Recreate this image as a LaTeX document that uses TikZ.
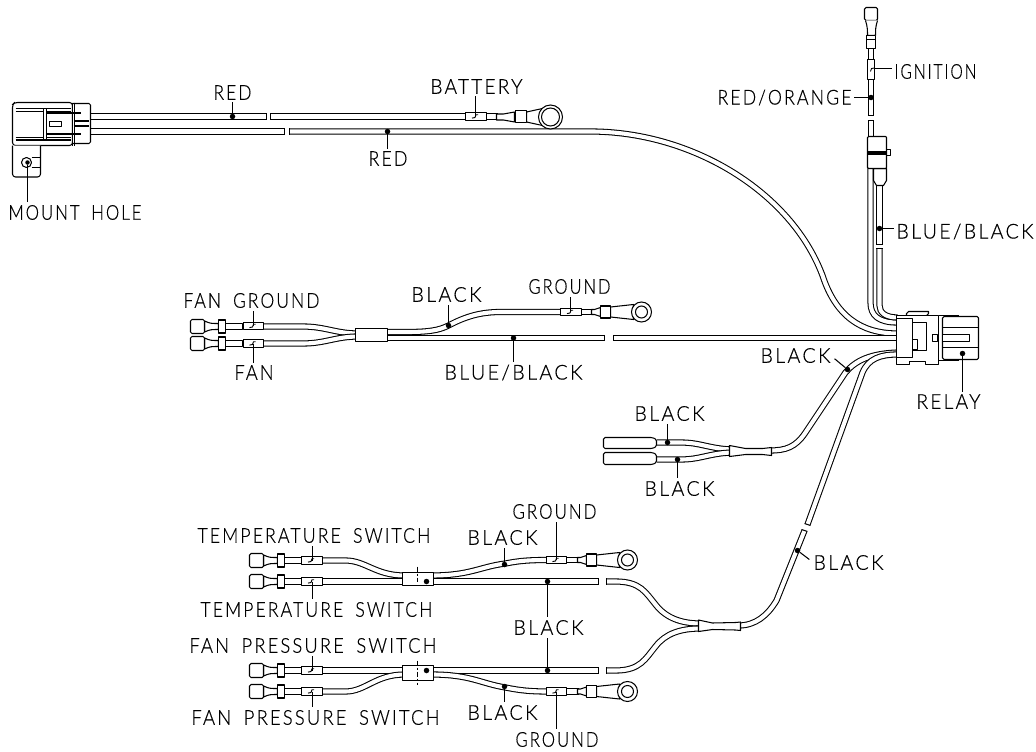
\documentclass[tikz,border=0pt]{standalone}
\usepackage{graphicx}
\usepackage{fontspec}
\newfontfamily\labfont[LetterSpace=12,FakeBold=0.5]{Lato Light}
\newcommand{\wgap}{\kern.3em}
\tikzset{
  ln/.style={line width=1.05pt,line join=round},
  wire/.style={draw=black,line width=1.05pt,double=white,double distance=4.1pt},
  wdot/.style={circle,fill=black,draw=none,inner sep=0pt,minimum size=5.5pt},
  lab/.style={inner sep=0pt,text=black},
  leader/.style={line width=1.05pt,shorten >=2.5pt},
  part/.style={ln,draw=black,fill=white},
}
% label: name, x, y, width, text
\newcommand{\lab}[5]{\node[lab] (#1) at (#2,#3) {\resizebox{#4pt}{\height}{\fontsize{20.5}{21}\labfont #5}};}
\newcommand{\capv}[2]{\draw[ln] (#1,#2-3.1) -- (#1,#2+3.1);}
% tag sleeve with small hook: x1, x2, y
\newcommand{\tagbox}[3]{%
  \draw[part] (#1,#3-3.6) rectangle (#2,#3+3.6);
  \draw[line width=.9pt] ({(#1+#2)/2-4},#3+1.6) -- ({(#1+#2)/2-1},#3+1) -- ({(#1+#2)/2},#3-1.8) -- ({(#1+#2)/2+2},#3-1.8);}
% blade terminal, opening left
\newcommand{\blade}[2]{\begin{scope}[shift={(#1,#2)}]
  \draw[part] (35,-3) rectangle (52,3);
  \draw[part] (14,-5.5) .. controls (20,-3) .. (28,-3) -- (28,3) .. controls (20,3) .. (14,5.5) -- cycle;
  \draw[part,rounded corners=1.5pt] (0,-7) rectangle (14,7);
  \draw[part] (28,-6.5) rectangle (35,6.5);
\end{scope}}
% ring terminal, opening right
\newcommand{\ring}[2]{\begin{scope}[shift={(#1,#2)}]
  \draw[part] (0,-2.5) -- (3,-2.5) -- (9,-4.5) -- (9,4.5) -- (3,2.5) -- (0,2.5) -- cycle;
  \draw[part] (19,-5) -- (42,-7.5) -- (42,7.5) -- (19,5) -- cycle;
  \draw[part] (9,-6) rectangle (19,6);
  \draw[part] (50,0) circle [radius=10];
  \draw[ln] (50,0) circle [radius=6];
\end{scope}}
\begin{document}
\begin{tikzpicture}[x=1pt,y=-1pt]
\useasboundingbox (0,0) rectangle (1036,752);
\begin{scope}[shift={(.5,.5)}]

% ---- wires ----
\draw[wire] (85,116) -- (266,116);
\draw[wire] (270,116) -- (467,116);
\draw[wire] (486,116) -- (497,116);
\draw[wire] (85,131) -- (284,131);
\draw[wire] (289,131) -- (590,131) .. controls (690,131) and (790,190) .. (822,275) .. controls (835,315) and (860,333) .. (897,333);
\capv{266}{116}\capv{270}{116}\capv{284}{131}\capv{289}{131}
% vertical wires to the relay
\draw[wire] (870.5,45) -- (870.5,115);
\draw[wire] (870.5,120) -- (870.5,140);
\draw[wire] (870,165) -- (870,302) .. controls (870,315) and (878,322) .. (897,322);
\draw[wire] (879,180) -- (879,244);
\draw[wire] (879,248) -- (879,305) .. controls (879,312) and (885,317) .. (897,317);
\draw[ln] (867.4,115) -- (873.6,115) (867.4,120) -- (873.6,120) (875.9,244) -- (882.1,244) (875.9,248) -- (882.1,248);
% fan group
\draw[wire] (263,326) -- (302,326) .. controls (325,326) and (335,333) .. (358,333);
\draw[wire] (263,343) -- (302,343) .. controls (325,343) and (335,336) .. (358,336);
\draw[wire] (385,337.5) -- (604,337.5);
\draw[wire] (613,337.5) -- (897,337.5);
\capv{604}{337.5}\capv{613}{337.5}
\draw[wire] (385,331.5) -- (405,331.5) .. controls (428,331.5) and (438,330) .. (448,325) .. controls (465,316) and (480,311.5) .. (500,311.5) -- (562,311.5);
\draw[wire] (580,311.5) -- (592,311.5);
% branches under the relay
\draw[wire] (897,352) .. controls (870,353) and (855,360) .. (845,372) -- (805,432) .. controls (795,447) and (785,450) .. (769,450);
\draw[wire] (897,354) .. controls (880,354) and (868,358) .. (862,372) -- (807,524);
\draw[wire] (804,530) -- (776,600) .. controls (767,615) and (755,625) .. (738,625);
\draw[ln] (804.1,523) -- (809.9,525) (801.1,529) -- (806.9,531);
% relay-side Y
\draw[wire] (656,442) -- (680,442) .. controls (700,442) and (708,448) .. (731,449);
\draw[wire] (656,459) -- (680,459) .. controls (700,459) and (708,453) .. (731,452);
% temperature group
\draw[wire] (322,560) -- (345,560) .. controls (365,560) and (375,575) .. (404,575);
\draw[wire] (300,581) -- (404,581);
\draw[wire] (431,581) -- (598,581);
\draw[wire] (431,575) .. controls (470,575) and (480,566) .. (505,563) .. controls (520,560) and (530,559.5) .. (548,559.5);
\draw[wire] (565,559.5) -- (578,559.5);
\capv{598}{581}
% fan pressure group
\draw[wire] (322,670) -- (404,670);
\draw[wire] (322,691) -- (345,691) .. controls (365,691) and (375,674) .. (404,674);
\draw[wire] (431,670) -- (598,670);
\draw[wire] (431,674) .. controls (470,674) and (480,683) .. (505,687) .. controls (520,690) and (530,691) .. (548,691);
\draw[wire] (565,691) -- (578,691);
\capv{598}{670}
% Y into the switch branch
\draw[wire] (606,581) -- (615,581) .. controls (640,581) and (645,592) .. (655,604) .. controls (665,617) and (680,623) .. (700,623);
\draw[wire] (606,670) -- (615,670) .. controls (640,670) and (645,658) .. (655,646) .. controls (665,633) and (680,628) .. (700,628);
\capv{606}{581}\capv{606}{670}

% ---- left connector ----
\draw[part,rounded corners=3pt] (72,102) -- (14,102) -- (12,104) -- (12,145) -- (72,145) -- cycle;
\draw[part,rounded corners=3pt] (40,145) -- (40,176.5) -- (12,176.5) -- (12,145);
\draw[part,rounded corners=1.5pt] (72,103) -- (90,103) -- (90,143) -- (72,143);
\draw[ln] (72,102) -- (72,145) (74,102) -- (74,145);
\draw[ln] (15,108) -- (70,108) (15,111) -- (70,111) (15,137) -- (70,137) (15,139.5) -- (70,139.5);
\draw[part] (43,108) rectangle (46,139.5);
\draw[ln] (46,112.5) -- (80,112.5) (46,133.5) -- (80,133.5);
\draw[part] (49,121) rectangle (61,126);
\draw[ln] (73,120.5) -- (88,120.5) (73,125.5) -- (88,125.5);
\draw[ln] (31,157) -- (40,157) (31,167) -- (40,167);
\draw[part] (26,162) circle [radius=5];

% ---- battery terminal ----
\draw[part] (496,113.5) -- (503,113.5) -- (514,111.5) -- (514,121.5) -- (503,119.5) -- (496,119.5) -- cycle;
\draw[part] (526,111.5) -- (542,108) -- (542,125) -- (526,121.5) -- cycle;
\draw[part] (515,110) rectangle (526,122);
\draw[part] (550,116.5) circle [radius=12];
\draw[ln] (550,116.5) circle [radius=9];
\tagbox{465}{486}{116}

% ---- ignition branch ----
\draw[part,rounded corners=1.5pt] (864,7) rectangle (877,20);
\draw[part] (865,20) .. controls (867,26) and (867,30) .. (867,35) -- (875,35) .. controls (875,30) and (875,26) .. (877,20);
\draw[part] (866,35) rectangle (875,48);
\draw[ln] (866,39) -- (875,39);
\draw[part] (867,59) rectangle (874,79);
\draw[line width=.9pt] (870,71) -- (871,68) -- (874,67.5);
% clamp and boot
\draw[part] (873,168) -- (873,180) -- (876,185) -- (883,185) -- (886,180) -- (886,168) -- cycle;
\draw[ln] (876,185) -- (876,188) (882,185) -- (882,188);
\draw[part] (885,149) rectangle (890,155);
\draw[part,rounded corners=1pt] (867,136) rectangle (886,168);
\draw[draw=none,fill=black] (866,150) rectangle (886,154);

% ---- relay connector ----
\draw[part] (906,315) -- (906,313) -- (908,311) -- (928,311) -- (928,313) -- (926,315);
\draw[part] (896,315) -- (938,315) -- (938,364) -- (925,364) -- (925,361) -- (909,361) -- (909,364) -- (896,364) -- cycle;
\draw[part] (896,318) rectangle (912,357);
\draw[part] (912,322) rectangle (926,350);
\draw[part] (912,339) rectangle (917,349);
\draw[ln] (938,315) -- (958,315) (938,360) -- (958,360);
\draw[part,rounded corners=1.5pt] (942,316) rectangle (978,359);
\draw[ln] (942,327) -- (978,327) (942,347) -- (978,347);
\draw[part] (942,334) rectangle (969,341);
\draw[part] (932,334) rectangle (937,341);

% ---- fan group parts ----
\blade{190}{326}\blade{190}{343}
\tagbox{243}{263}{325.5}\tagbox{243}{263}{343}
\draw[part] (355,328) rectangle (387,341);
\tagbox{560}{581}{311.5}
\ring{591}{311.5}

% ---- relay-side Y parts ----
\draw[part,rounded corners=1.5pt] (603,437) -- (652,437) -- (656,439) -- (656,446) -- (652,448) -- (603,448) -- cycle;
\draw[part,rounded corners=1.5pt] (603,452) -- (652,452) -- (656,454) -- (656,462) -- (652,464) -- (603,464) -- cycle;
\draw[part] (729,445) -- (745,448) -- (762,448) -- (771,447) -- (771,455) -- (762,454) -- (745,454) -- (729,456) -- cycle;

% ---- temperature parts ----
\blade{249}{560}\blade{249}{581}
\tagbox{301}{322}{560}\tagbox{301}{322}{581}
\draw[part] (402,572) rectangle (433,585);
\draw[line width=.9pt,dash pattern=on 5pt off 2pt on 2pt off 2pt] (417,566) -- (417,581);
\tagbox{546}{566}{559.5}
\ring{577}{559.5}

% ---- fan pressure parts ----
\blade{249}{670}\blade{249}{691}
\tagbox{301}{322}{670}\tagbox{301}{322}{691}
\draw[part] (402,665) rectangle (433,680);
\draw[line width=.9pt,dash pattern=on 5pt off 2pt on 2pt off 2pt] (417,660) -- (417,684);
\tagbox{546}{566}{691}
\ring{577}{691}

% ---- switch-branch sleeve ----
\draw[part] (698,619.5) -- (712,622.5) -- (735,622) -- (740,621.5) -- (740,630) -- (735,629.5) -- (712,629) -- (698,631) -- cycle;

% ---- connection dots ----
\node[wdot] (dRedA) at (232,116) {};
\node[wdot] (dRedB) at (387,131) {};
\coordinate (dBatt) at (475,116);
\node[wdot,minimum size=4.5pt] (dHole) at (27,162) {};
\coordinate (dIgn) at (874,68);
\node[wdot] (dOrange) at (870.5,97) {};
\node[wdot] (dBlueV) at (879,228) {};
\coordinate (dFanG) at (253,325);
\coordinate (dFan) at (253,343);
\node[wdot] (dBlackF) at (448,325) {};
\coordinate (dGndF) at (570,311);
\node[wdot] (dBlueH) at (513,337.5) {};
\node[wdot] (dBlackR) at (847,369) {};
\node[wdot] (dRelay) at (962,353) {};
\node[wdot] (dY1) at (667,442) {};
\node[wdot] (dY2) at (677,459) {};
\node[wdot] (dSw) at (797,550) {};
\coordinate (dT1) at (312,560);
\coordinate (dT2) at (312,581);
\coordinate (dGndT) at (556,559);
\node[wdot] (dBlackT) at (504,564) {};
\node[wdot] (dST) at (426,581) {};
\node[wdot] (dA) at (547,581) {};
\node[wdot] (dB) at (547,670) {};
\node[wdot] (dSP) at (426,670) {};
\coordinate (dP1) at (312,670);
\coordinate (dP2) at (312,691);
\node[wdot] (dBlackP) at (504,686) {};
\coordinate (dGndP) at (556,691);

% ---- labels ----
\lab{lRedA}{232}{92}{38}{RED}
\lab{lBatt}{476}{86}{92}{BATTERY}
\lab{lRedB}{387.5}{158}{39}{RED}
\lab{lIgn}{935}{71}{82}{IGNITION}
\lab{lOrange}{784}{97}{134}{RED/ORANGE}
\lab{lBlueV}{964.5}{231}{137}{BLUE/BLACK}
\lab{lMount}{74.5}{212}{133}{MOUNT \wgap HOLE}
\lab{lFanG}{251}{300}{136}{FAN \wgap GROUND}
\lab{lBlackF}{446}{294}{70}{BLACK}
\lab{lGndF}{569}{286}{82}{GROUND}
\lab{lFan}{253.5}{372}{39}{FAN}
\lab{lBlueH}{513}{372}{138}{BLUE/BLACK}
\lab{lBlackR}{795}{355}{70}{BLACK}
\lab{lRelay}{948}{401}{64}{RELAY}
\lab{lY1}{669}{413}{70}{BLACK}
\lab{lY2}{679}{488}{70}{BLACK}
\lab{lT1}{313.5}{535}{233}{TEMPERATURE \wgap SWITCH}
\lab{lGndT}{554}{511}{84}{GROUND}
\lab{lBlackT}{502}{537}{70}{BLACK}
\lab{lT2}{316}{609}{232}{TEMPERATURE \wgap SWITCH}
\lab{lSw}{848}{562}{70}{BLACK}
\lab{lAB}{548}{627}{70}{BLACK}
\lab{lP1}{312.5}{645}{247}{FAN \wgap PRESSURE \wgap SWITCH}
\lab{lP2}{315}{717}{248}{FAN \wgap PRESSURE \wgap SWITCH}
\lab{lBlackP}{502}{712}{70}{BLACK}
\lab{lGndP}{556.5}{739}{83}{GROUND}

% ---- leaders ----
\draw[leader] (dRedA) -- (dRedA |- lRedA.south);
\draw[leader] (dRedB) -- (dRedB |- lRedB.north);
\draw[leader] (dBatt) -- (dBatt |- lBatt.south);
\draw[leader] (dHole) -- (dHole |- lMount.north);
\draw[leader] (dIgn) -- (dIgn -| lIgn.west);
\draw[leader] (dOrange) -- (dOrange -| lOrange.east);
\draw[leader] (dBlueV) -- (dBlueV -| lBlueV.west);
\draw[leader] (dFanG) -- (dFanG |- lFanG.south);
\draw[leader] (dFan) -- (dFan |- lFan.north);
\draw[leader] (dBlackF) -- (dBlackF |- lBlackF.south);
\draw[leader] (dGndF) -- (dGndF |- lGndF.south);
\draw[leader] (dBlueH) -- (dBlueH |- lBlueH.north);
\draw[leader,shorten >=5pt] (dBlackR) -- (lBlackR.east);
\draw[leader] (dRelay) -- (dRelay |- lRelay.north);
\draw[leader] (dY1) -- (dY1 |- lY1.south);
\draw[leader] (dY2) -- (dY2 |- lY2.north);
\draw[leader,shorten >=5pt] (dSw) -- (lSw.west);
\draw[leader] (dT1) -- (dT1 |- lT1.south);
\draw[leader] (dT2) -- (dT2 |- lT2.north);
\draw[leader] (dGndT) -- (dGndT |- lGndT.south);
\draw[leader] (dBlackT) -- (dBlackT |- lBlackT.south);
\draw[leader] (dA) -- (dA |- lAB.north);
\draw[leader] (dB) -- (dB |- lAB.south);
\draw[leader] (dP1) -- (dP1 |- lP1.south);
\draw[leader] (dP2) -- (dP2 |- lP2.north);
\draw[leader] (dBlackP) -- (dBlackP |- lBlackP.north);
\draw[leader] (dGndP) -- (dGndP |- lGndP.north);
\end{scope}
\end{tikzpicture}
\end{document}
